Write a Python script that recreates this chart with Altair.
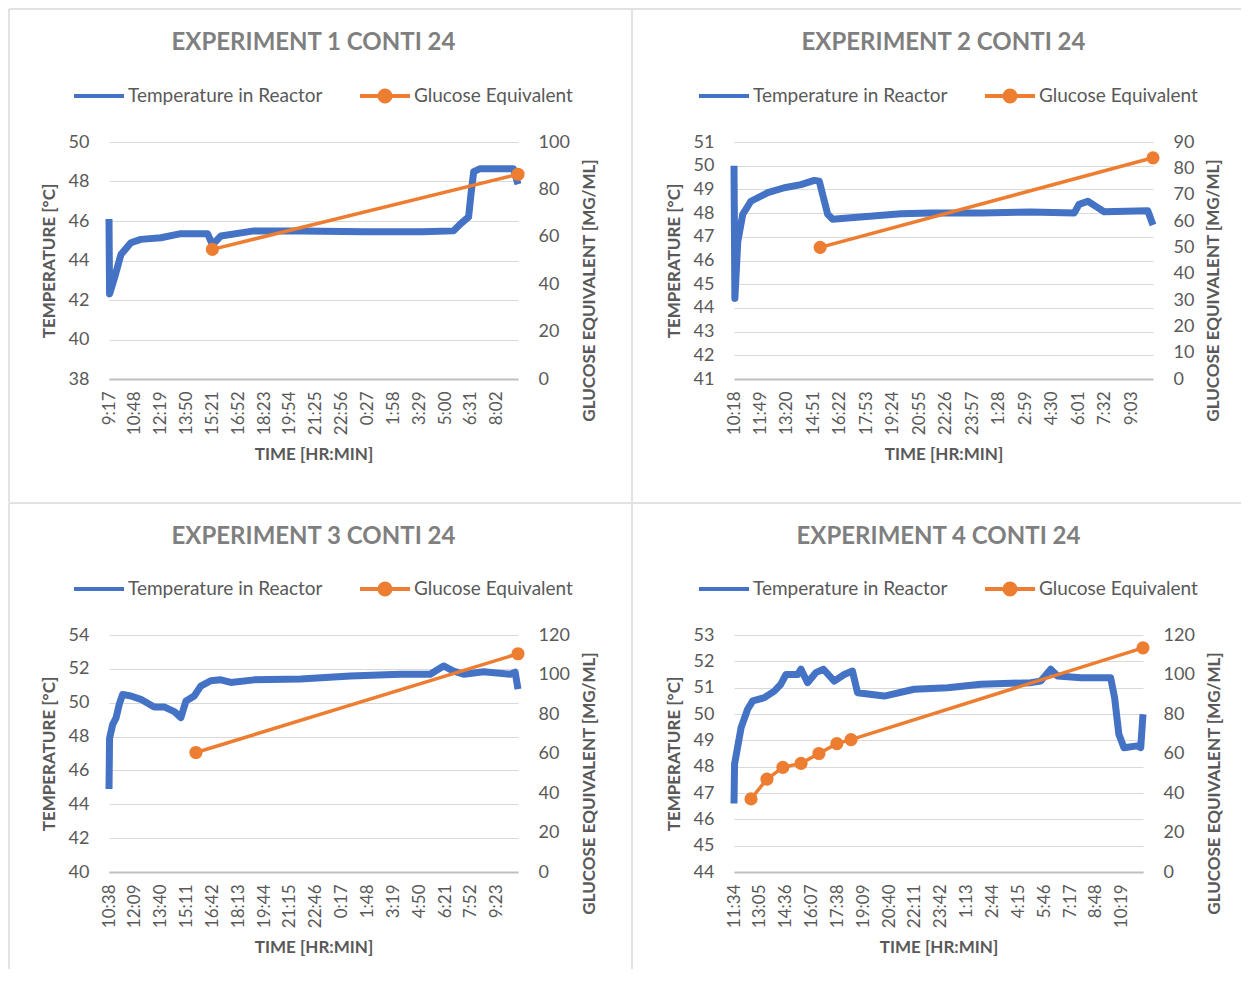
import altair as alt
import pandas as pd

FONT = "Lato"
BLUE = "#4472C4"
ORANGE = "#ED7D31"
TXT = "#595959"
TITLE_COL = "#7F7F7F"
GRID = "#D9D9D9"
BORDER = "#D9D9D9"

SERIES = ["Temperature in Reactor", "Glucose Equivalent"]
TITLES = ["EXPERIMENT 1 CONTI 24", "EXPERIMENT 2 CONTI 24",
          "EXPERIMENT 3 CONTI 24", "EXPERIMENT 4 CONTI 24"]

# x tick labels (one every 91 minutes from start)
TICKS_1 = ["9:17", "10:48", "12:19", "13:50", "15:21", "16:52", "18:23", "19:54",
           "21:25", "22:56", "0:27", "1:58", "3:29", "5:00", "6:31", "8:02"]
TICKS_2 = ["10:18", "11:49", "13:20", "14:51", "16:22", "17:53", "19:24", "20:55",
           "22:26", "23:57", "1:28", "2:59", "4:30", "6:01", "7:32", "9:03"]
TICKS_3 = ["10:38", "12:09", "13:40", "15:11", "16:42", "18:13", "19:44", "21:15",
           "22:46", "0:17", "1:48", "3:19", "4:50", "6:21", "7:52", "9:23"]
TICKS_4 = ["11:34", "13:05", "14:36", "16:07", "17:38", "19:09", "20:40", "22:11",
           "23:42", "1:13", "2:44", "4:15", "5:46", "7:17", "8:48", "10:19"]

# Temperature in reactor (minutes since start, degC)
TEMP_MIN_1 = [0, 2, 19, 42, 77, 112, 183, 253, 347, 364, 394, 510, 675, 900, 1100,
              1213, 1237, 1266, 1274, 1284, 1307, 1424, 1440]
TEMP_VAL_1 = [46.1, 42.3, 43.1, 44.3, 44.9, 45.07, 45.15, 45.36, 45.36, 44.8, 45.24,
              45.5, 45.5, 45.45, 45.45, 45.5, 45.85, 46.2, 47.3, 48.5, 48.65, 48.65, 47.86]

TEMP_MIN_2 = [0, 3, 13, 30, 58, 116, 173, 230, 276, 293, 322, 339, 402, 574, 677, 850,
              1021, 1169, 1186, 1216, 1250, 1272, 1422, 1440]
TEMP_VAL_2 = [50.0, 44.4, 46.8, 47.95, 48.5, 48.86, 49.07, 49.2, 49.38, 49.35, 47.95,
              47.74, 47.8, 47.97, 48.0, 48.0, 48.05, 48.0, 48.37, 48.5, 48.23, 48.06, 48.1, 47.5]

TEMP_MIN_3 = [0, 2, 13, 25, 36, 48, 77, 112, 159, 194, 230, 253, 271, 300, 323, 358,
              394, 429, 511, 675, 850, 1026, 1131, 1178, 1213, 1249, 1319, 1413, 1430, 1440]
TEMP_VAL_3 = [44.9, 47.9, 48.72, 49.11, 49.9, 50.49, 50.4, 50.2, 49.75, 49.75, 49.47,
              49.12, 50.1, 50.4, 50.98, 51.3, 51.35, 51.2, 51.35, 51.4, 51.58, 51.68,
              51.68, 52.17, 51.87, 51.68, 51.83, 51.68, 51.8, 50.8]

TEMP_MIN_4 = [0, 2, 25, 48, 66, 107, 142, 165, 183, 224, 236, 259, 288, 315, 353, 388,
              417, 435, 529, 634, 752, 869, 1045, 1080, 1115, 1139, 1221, 1326, 1340,
              1355, 1373, 1420, 1432, 1440]
TEMP_VAL_4 = [46.6, 48.1, 49.48, 50.18, 50.5, 50.62, 50.87, 51.13, 51.5, 51.5, 51.7,
              51.19, 51.57, 51.7, 51.25, 51.5, 51.63, 50.81, 50.68, 50.94, 51.0, 51.13,
              51.19, 51.25, 51.7, 51.44, 51.38, 51.38, 50.62, 49.23, 48.72, 48.79, 48.72, 49.99]

# Glucose equivalent (minutes since start, mg/mL)
GLU_MIN_1 = [364, 1440]
GLU_VAL_1 = [54.7, 86.4]
GLU_MIN_2 = [296, 1440]
GLU_VAL_2 = [50.0, 84.0]
GLU_MIN_3 = [306, 1440]
GLU_VAL_3 = [60.5, 110.5]
GLU_MIN_4 = [60, 116, 172, 236, 299, 362, 412, 1440]
GLU_VAL_4 = [37.0, 47.0, 53.0, 55.0, 60.0, 65.0, 67.0, 113.5]

LEFT_TICKS_1 = [38, 40, 42, 44, 46, 48, 50]
LEFT_TICKS_2 = [41, 42, 43, 44, 45, 46, 47, 48, 49, 50, 51]
LEFT_TICKS_3 = [40, 42, 44, 46, 48, 50, 52, 54]
LEFT_TICKS_4 = [44, 45, 46, 47, 48, 49, 50, 51, 52, 53]
RIGHT_TICKS_1 = [0, 20, 40, 60, 80, 100]
RIGHT_TICKS_2 = [0, 10, 20, 30, 40, 50, 60, 70, 80, 90]
RIGHT_TICKS_3 = [0, 20, 40, 60, 80, 100, 120]
RIGHT_TICKS_4 = [0, 20, 40, 60, 80, 100, 120]

TICKS = [TICKS_1, TICKS_2, TICKS_3, TICKS_4]
TEMP_MIN = [TEMP_MIN_1, TEMP_MIN_2, TEMP_MIN_3, TEMP_MIN_4]
TEMP_VAL = [TEMP_VAL_1, TEMP_VAL_2, TEMP_VAL_3, TEMP_VAL_4]
GLU_MIN = [GLU_MIN_1, GLU_MIN_2, GLU_MIN_3, GLU_MIN_4]
GLU_VAL = [GLU_VAL_1, GLU_VAL_2, GLU_VAL_3, GLU_VAL_4]
LEFT_TICKS = [LEFT_TICKS_1, LEFT_TICKS_2, LEFT_TICKS_3, LEFT_TICKS_4]
RIGHT_TICKS = [RIGHT_TICKS_1, RIGHT_TICKS_2, RIGHT_TICKS_3, RIGHT_TICKS_4]

PLOT_W = [409, 419, 409, 409]
PLOT_H = 237
SPAN = 1440
STEP = 91

# panel frame lines (pixel offsets relative to each plot area)
BORDER_X = [-100, -102, -100, -102]
BORDER_X2 = [523, 507, 523, 507]
BORDER_Y = [-133, -133, -132, -132]
BORDER_Y2 = [360, 360, 334, 334]

LINE_DOT = "M-1,0L1,0M-0.22,0A0.22,0.22,0,1,1,0.22,0A0.22,0.22,0,1,1,-0.22,0Z"


def legend(x_off, shape):
    return alt.Legend(
        title=None, orient="none", legendX=x_off, legendY=-73, padding=0,
        symbolType=shape, symbolSize=2500, symbolStrokeWidth=4,
        symbolFillColor=ORANGE, labelLimit=400,
        labelFont=FONT, labelFontSize=19, labelColor=TXT, labelOffset=2,
    )


def panel(i):
    w = PLOT_W[i]
    temp = pd.DataFrame({"minute": TEMP_MIN[i], "value": TEMP_VAL[i], "series": SERIES[0]})
    glu = pd.DataFrame({"minute": GLU_MIN[i], "value": GLU_VAL[i], "series": SERIES[1]})
    lbl = "[" + ",".join("'" + t + "'" for t in TICKS[i]) + "]"

    x = alt.X(
        "minute:Q",
        scale=alt.Scale(domain=[0, SPAN], nice=False, zero=False),
        axis=alt.Axis(
            values=[STEP * k for k in range(len(TICKS[i]))],
            labelExpr=f"{lbl}[round(datum.value / {STEP})]",
            labelAngle=270, labelFontSize=17, labelColor=TXT, labelFont=FONT,
            labelPadding=12, labelOverlap=False, labelFlush=False,
            ticks=False, grid=False, domainColor="#BFBFBF", domainWidth=2,
            title="TIME [HR:MIN]", titleFont=FONT, titleFontSize=17,
            titleFontWeight="bold", titleColor=TXT, titlePadding=12,
        ),
    )
    left_axis = alt.Axis(
        orient="left", values=LEFT_TICKS[i], grid=True, gridColor=GRID, gridWidth=1,
        domain=False, ticks=False, labelFont=FONT, labelFontSize=18, labelColor=TXT,
        labelPadding=20, title="TEMPERATURE [°C]", titleFont=FONT, titleFontSize=17,
        titleFontWeight="bold", titleColor=TXT, titlePadding=10,
    )
    right_axis = alt.Axis(
        orient="right", values=RIGHT_TICKS[i], grid=False, domain=False, ticks=False,
        labelFont=FONT, labelFontSize=18, labelColor=TXT, labelPadding=20,
        title="GLUCOSE EQUIVALENT [MG/ML]", titleFont=FONT, titleFontSize=17,
        titleFontWeight="bold", titleColor=TXT, titlePadding=12,
        titleAngle=270, titleBaseline="top", titleY=148, titleAlign="center",
    )

    temp_line = alt.Chart(temp).mark_line(strokeWidth=7, strokeJoin="round").encode(
        x=x,
        y=alt.Y("value:Q", scale=alt.Scale(domain=[LEFT_TICKS[i][0], LEFT_TICKS[i][-1]],
                                          nice=False, zero=False), axis=left_axis),
        color=alt.Color("series:N", scale=alt.Scale(domain=[SERIES[0]], range=[BLUE]),
                        legend=legend(-37, "stroke")),
    )
    glu_line = alt.Chart(glu).mark_line(
        strokeWidth=3.5,
        point=alt.OverlayMarkDef(filled=True, size=125, opacity=1, fill=ORANGE, color=ORANGE),
    ).encode(
        x=x,
        y=alt.Y("value:Q", scale=alt.Scale(domain=[RIGHT_TICKS[i][0], RIGHT_TICKS[i][-1]],
                                          nice=False, zero=False), axis=right_axis),
        stroke=alt.Stroke("series:N", scale=alt.Scale(domain=[SERIES[1]], range=[ORANGE]),
                          legend=legend(249, LINE_DOT)),
    )
    frame = alt.Data(values=[{"k": 0}])
    vline = alt.Chart(frame).mark_rule(color=BORDER, strokeWidth=1.5).encode(
        x=alt.value(BORDER_X[i]), y=alt.value(BORDER_Y[i]), y2=alt.value(BORDER_Y2[i]))
    hline = alt.Chart(frame).mark_rule(color=BORDER, strokeWidth=1.5).encode(
        x=alt.value(BORDER_X[i]), x2=alt.value(BORDER_X2[i]), y=alt.value(BORDER_Y[i]))

    return alt.layer(vline, hline, temp_line, glu_line).resolve_scale(
        y="independent"
    ).properties(
        width=w, height=PLOT_H,
        title=alt.TitleParams(
            text=TITLES[i], font=FONT, fontSize=24, fontWeight="bold", color=TITLE_COL,
            anchor="middle", frame="group", baseline="alphabetic", offset=-66,
        ),
    )


chart = alt.concat(
    *[panel(i) for i in range(4)],
    columns=2, spacing={"row": 256, "column": 216}, bounds="flush", align="each",
).resolve_scale(
    color="independent", stroke="independent", x="independent", y="independent"
).resolve_legend(color="independent", stroke="independent").configure_view(
    strokeWidth=0
).properties(padding=0, background="white")

chart.save("out.html", embed_options={"renderer": "svg", "actions": False})
